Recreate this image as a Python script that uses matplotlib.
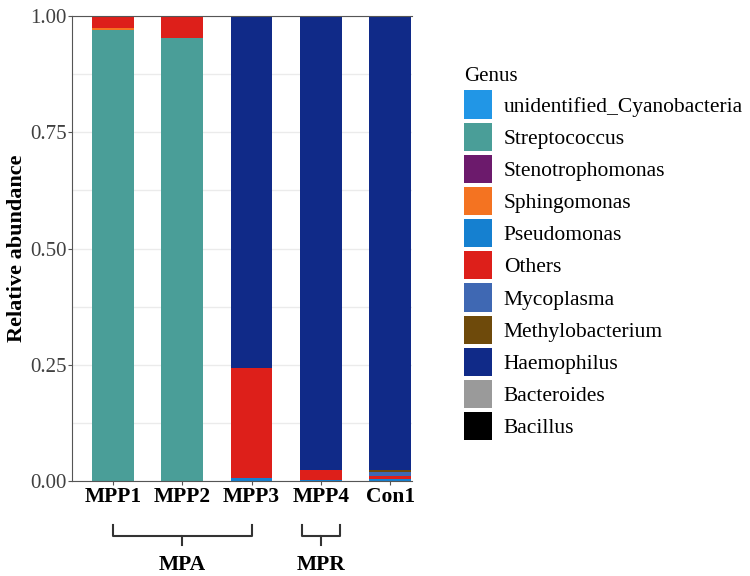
import numpy as np
import matplotlib.pyplot as plt
from matplotlib.patches import Patch
import matplotlib.transforms as mtransforms

plt.rcParams['font.family'] = ['Liberation Serif', 'DejaVu Serif']

samples = ['MPP1', 'MPP2', 'MPP3', 'MPP4', 'Con1']
genera = ['unidentified_Cyanobacteria', 'Streptococcus', 'Stenotrophomonas',
          'Sphingomonas', 'Pseudomonas', 'Others', 'Mycoplasma',
          'Methylobacterium', 'Haemophilus', 'Bacteroides', 'Bacillus']
colors = ['#2196e6', '#4a9e98', '#6c1a6c', '#f47321', '#1580d0', '#dd1f1a',
          '#3f68b3', '#6e4a0b', '#102a88', '#9a9a9a', '#000000']

# relative abundance per genus (rows) for each sample (columns)
abund = {
    'unidentified_Cyanobacteria': [0.000, 0.000, 0.000, 0.000, 0.000],
    'Streptococcus':              [0.971, 0.952, 0.000, 0.000, 0.000],
    'Stenotrophomonas':           [0.000, 0.000, 0.000, 0.000, 0.000],
    'Sphingomonas':               [0.003, 0.001, 0.000, 0.000, 0.000],
    'Pseudomonas':                [0.000, 0.000, 0.006, 0.003, 0.004],
    'Others':                     [0.026, 0.047, 0.237, 0.020, 0.007],
    'Mycoplasma':                 [0.000, 0.000, 0.000, 0.001, 0.008],
    'Methylobacterium':           [0.000, 0.000, 0.000, 0.000, 0.004],
    'Haemophilus':                [0.000, 0.000, 0.757, 0.976, 0.977],
    'Bacteroides':                [0.000, 0.000, 0.000, 0.000, 0.000],
    'Bacillus':                   [0.000, 0.000, 0.000, 0.000, 0.000],
}

groups = [('MPA', 0, 2), ('MPR', 3, 3)]

fig = plt.figure(figsize=(7.5, 5.76), dpi=100)
ax = fig.add_axes([0.096, 0.165, 0.453, 0.807])

x = np.arange(1, len(samples) + 1)
bottom = np.zeros(len(samples))
for g, c in zip(genera, colors):
    vals = np.array(abund[g])
    ax.bar(x, vals, 0.6, bottom=bottom, color=c, zorder=2)
    bottom += vals

ax.set_xlim(0.41, 5.31)
ax.set_ylim(0, 1)
ax.set_yticks([0, 0.25, 0.5, 0.75, 1.0])
ax.set_yticklabels(['0.00', '0.25', '0.50', '0.75', '1.00'], fontsize=15, color='#404040')
ax.set_yticks([0.125, 0.375, 0.625, 0.875], minor=True)
ax.yaxis.grid(True, which='both', color='#ebebeb', lw=1, zorder=0)
ax.tick_params(axis='y', which='minor', length=0)
ax.tick_params(axis='y', which='major', length=3, color='#555555', pad=1)
ax.set_xticks(x)
ax.set_xticklabels(samples, fontsize=15.5, fontweight='bold')
ax.tick_params(axis='x', length=3, color='#555555', pad=1)
ax.set_ylabel('Relative abundance', fontsize=16, fontweight='bold', labelpad=2)
for s in ['left', 'bottom', 'top']:
    ax.spines[s].set_color('#555555')
ax.spines['right'].set_visible(False)

# group brackets under the tick labels
trans = mtransforms.blended_transform_factory(ax.transData, ax.transAxes)
for name, i0, i1 in groups:
    x0, x1 = x[i0] - (0.0 if i0 != i1 else 0.27), x[i1] + (0.0 if i0 != i1 else 0.27)
    xc = (x0 + x1) / 2
    ax.plot([x0, x0, xc, xc], [-0.095, -0.119, -0.119, -0.137], color='#333333',
            lw=1.5, transform=trans, clip_on=False, solid_joinstyle='round')
    ax.plot([x1, x1, xc], [-0.095, -0.119, -0.119], color='#333333',
            lw=1.5, transform=trans, clip_on=False, solid_joinstyle='round')
    ax.text(xc, -0.18, name, transform=trans, ha='center', va='center',
            fontsize=15.5, fontweight='bold')

handles = [Patch(facecolor=c, edgecolor='none') for c in colors]
fig.legend(handles, genera, loc='upper left', bbox_to_anchor=(0.607, 0.898),
           frameon=False, fontsize=15.5, title='Genus', title_fontsize=15,
           handlelength=1.3, handleheight=1.63, labelspacing=0.19,
           handletextpad=0.55, alignment='left', borderaxespad=0)

fig.savefig('out.png', dpi=100)
